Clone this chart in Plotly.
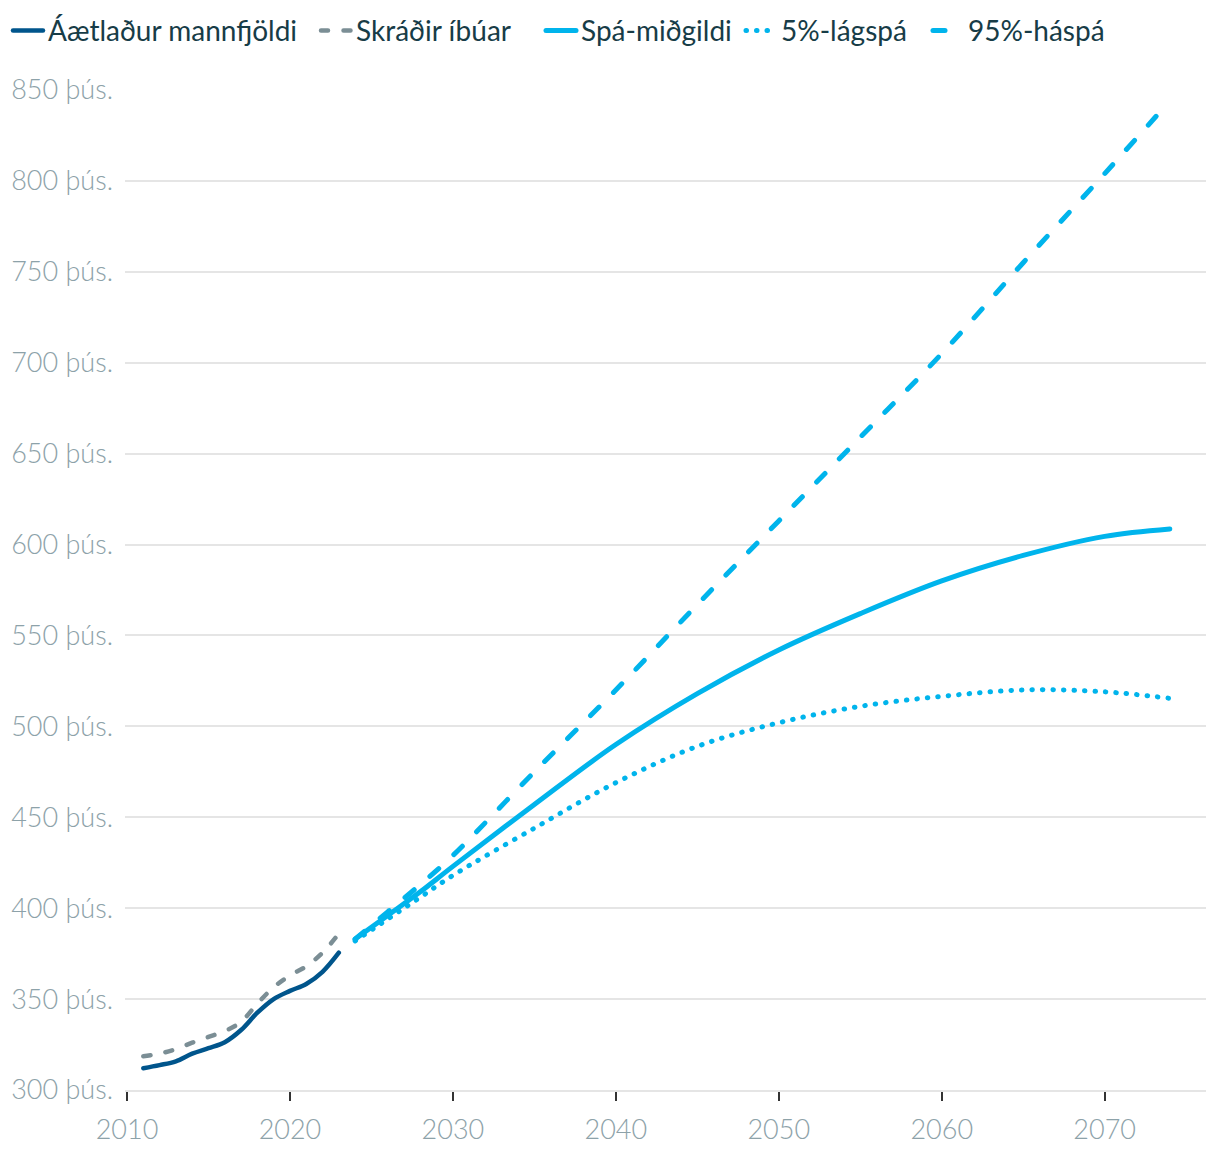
import plotly.graph_objects as go

# Historical data (thousands)
hist_years = [2011, 2012, 2013, 2014, 2015, 2016, 2017, 2018, 2019, 2020, 2021, 2022, 2023]
estimated_pop = [312, 313.7, 315.8, 320, 323, 326.3, 333, 342.5, 350, 354.5, 358.3, 365, 375.5]
registered_pop = [318.6, 320, 322.5, 326, 329.2, 332.4, 337.5, 347.5, 356.5, 363, 368, 375.5, 386]

# Forecast data (thousands)
fc_years = [2024, 2026, 2028, 2030, 2035, 2040, 2045, 2050, 2055, 2060, 2065, 2070, 2074]
median_fc = [383, 396, 409, 423, 457, 490, 518, 542, 562, 580, 594, 604.5, 608.6]
low_fc = [382, 394, 406, 418, 444, 469, 489, 502, 511, 516.5, 520, 519, 515.4]
high_fc = [383, 398, 413, 429, 475, 520, 567, 613, 659, 705, 755, 804, 844]

y_ticks = [300, 350, 400, 450, 500, 550, 600, 650, 700, 750, 800, 850]
y_ticktext = [f"{v} þús." for v in y_ticks]
x_ticks = [2010, 2020, 2030, 2040, 2050, 2060, 2070]

DARK = "#00558c"
GRAY = "#7b8e95"
LIGHT = "#00b4ec"
TXT = "#173c47"
TICK = "#8da2a9"
TICK_FONT = "Lato Light, Lato"

fig = go.Figure()
fig.add_trace(go.Scatter(x=hist_years, y=estimated_pop, name="Áætlaður mannfjöldi", legend="legend",
                         mode="lines", line=dict(color=DARK, width=4.5, shape="spline")))
fig.add_trace(go.Scatter(x=hist_years, y=registered_pop, name="Skráðir íbúar", legend="legend2",
                         mode="lines", line=dict(color=GRAY, width=4.5, dash="7px,15.5px", shape="spline")))
fig.add_trace(go.Scatter(x=fc_years, y=median_fc, name="Spá-miðgildi", legend="legend3",
                         mode="lines", line=dict(color=LIGHT, width=5, shape="spline")))
fig.add_trace(go.Scatter(x=fc_years, y=low_fc, name="5%-lágspá", legend="legend4",
                         mode="lines", line=dict(color=LIGHT, width=5, dash="0.5px,10px", shape="spline")))
fig.add_trace(go.Scatter(x=fc_years, y=high_fc, name="95%-háspá", legend="legend5",
                         mode="lines", line=dict(color=LIGHT, width=5, dash="12px,20.5px", shape="spline")))

W, H = 1220, 1156
leg_px = [8, 316, 541, 741, 928]
leg_common = dict(orientation="h", xref="container", yref="container", y=0.995,
                  xanchor="left", yanchor="top", font=dict(family="Lato", size=28, color=TXT),
                  itemwidth=30, bgcolor="rgba(0,0,0,0)")
legends = {}
for i, px in enumerate(leg_px):
    key = "legend" if i == 0 else f"legend{i+1}"
    legends[key] = dict(x=px / W, **leg_common)

fig.update_layout(
    width=W, height=H,
    margin=dict(l=125, r=14, t=90, b=66),
    paper_bgcolor="white", plot_bgcolor="white",
    font=dict(family="Lato", size=27, color=TXT),
    showlegend=True,
    xaxis=dict(range=[2009.877, 2076.22], tickvals=x_ticks, showgrid=False, zeroline=False,
               ticks="outside", ticklen=9, tickwidth=2, tickcolor="#333333",
               showline=True, linecolor="#e5e5e5", linewidth=2, ticklabelstandoff=6,
               tickfont=dict(family=TICK_FONT, size=27, color=TICK, weight=300)),
    yaxis=dict(range=[300, 850], tickvals=y_ticks, ticktext=y_ticktext, showgrid=True,
               gridcolor="#e5e5e5", gridwidth=2, zeroline=False, ticks="", ticklabelstandoff=11,
               tickfont=dict(family=TICK_FONT, size=27, color=TICK, weight=300)),
    **legends,
)

post = """
document.body.style.margin='0';
var st=document.createElement('style');
st.innerHTML='body{margin:0} .scatterlayer path.js-line, .legendlines path{stroke-linecap:round;stroke-linejoin:round}';
document.head.appendChild(st);
"""
fig.write_html("out.html", post_script=post, config={"displayModeBar": False})
